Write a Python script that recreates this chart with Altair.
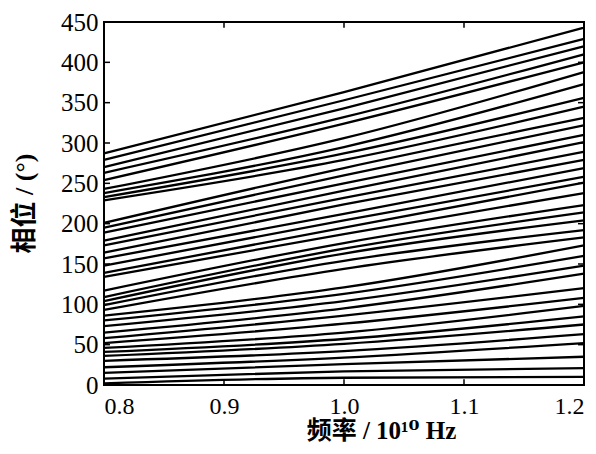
import altair as alt
import pandas as pd

# frequency sample points (in 10^10 Hz)
freq_points = [0.8, 1.0, 1.2]

# phase (degrees) of each curve, read at 0.8, 1.0 and 1.2
phase_at_08 = [287, 279, 270, 263, 254, 243, 238, 233, 229, 201, 195, 189, 179, 173,
               164, 157, 148, 139, 134, 117, 109, 104, 99, 93, 86, 80, 73, 65, 58,
               52, 46, 41, 36, 30, 22, 15, 8, 2]
phase_at_10 = [363, 353, 343, 332, 324, 306, 295, 287, 279, 269, 260, 250, 241, 232,
               224, 212, 204, 195, 187, 176, 169, 163, 154, 144, 121, 113, 104, 95, 86,
               76, 65, 57, 51, 42, 34, 26, 17, 9]
phase_at_12 = [443, 429, 420, 410, 400, 388, 373, 356, 345, 331, 322, 310, 301, 289,
               279, 269, 258, 251, 238, 223, 214, 204, 192, 183, 173, 160, 148, 138, 120,
               108, 98, 85, 75, 63, 52, 35, 21, 10]

x_ticks = [0.8, 0.9, 1.0, 1.1, 1.2]
x_inner_ticks = [0.9, 1.0, 1.1]
y_ticks = [0, 50, 100, 150, 200, 250, 300, 350, 400, 450]

rows = []
for i, vals in enumerate(zip(phase_at_08, phase_at_10, phase_at_12)):
    for f, v in zip(freq_points, vals):
        rows.append({"line": i, "freq": f, "phase": v})
df = pd.DataFrame(rows)

xscale = alt.Scale(domain=[0.8, 1.2], nice=False, zero=False)
yscale = alt.Scale(domain=[0, 450], nice=False, zero=False)

label_font = "Liberation Serif"
title_font = "Liberation Serif, DejaVu Serif, Noto Sans CJK SC"

x_axis = alt.Axis(values=x_ticks, format=".1f", title="频率 / 10¹⁰ Hz",
                  grid=False, domain=False, tickSize=0, labelPadding=9,
                  labelFont=label_font, labelFontSize=24, labelColor="black",
                  labelAlign=alt.expr("datum.value < 0.85 ? 'left' : (datum.value > 1.15 ? 'right' : 'center')"),
                  titleFont=title_font, titleFontSize=25, titleFontWeight="bold",
                  titleColor="black", titleX=277, titleY=45,
                  titleBaseline="middle", titleAlign="center")
y_axis = alt.Axis(values=y_ticks, title="相位 / (°)",
                  grid=False, domain=False, tickSize=0, labelPadding=6,
                  labelFont=label_font, labelFontSize=25, labelColor="black",
                  titleFont=title_font, titleFontSize=26, titleFontWeight="bold",
                  titleColor="black", titleX=-80, titleY=181, titleAngle=270,
                  titleBaseline="middle", titleAlign="center")

lines = alt.Chart(df).mark_line(color="black", strokeWidth=2.3, interpolate="monotone").encode(
    x=alt.X("freq:Q", scale=xscale, axis=x_axis),
    y=alt.Y("phase:Q", scale=yscale, axis=y_axis),
    detail="line:N",
)

ydf = pd.DataFrame({"v": y_ticks})
xdf = pd.DataFrame({"v": x_inner_ticks})

left_ticks = alt.Chart(ydf).mark_rule(color="black", strokeWidth=1.5).encode(
    y=alt.Y("v:Q", scale=yscale), x=alt.datum(0.8), x2=alt.datum(0.805))
right_ticks = alt.Chart(ydf).mark_rule(color="black", strokeWidth=1.5).encode(
    y=alt.Y("v:Q", scale=yscale), x=alt.datum(1.195), x2=alt.datum(1.2))
bottom_ticks = alt.Chart(xdf).mark_rule(color="black", strokeWidth=1.5).encode(
    x=alt.X("v:Q", scale=xscale), y=alt.datum(0), y2=alt.datum(7))
top_ticks = alt.Chart(xdf).mark_rule(color="black", strokeWidth=1.5).encode(
    x=alt.X("v:Q", scale=xscale), y=alt.datum(443), y2=alt.datum(450))

chart = alt.layer(lines, left_ticks, right_ticks, bottom_ticks, top_ticks).properties(
    width=480, height=363,
    autosize=alt.AutoSizeParams(type="none"),
    padding={"left": 96, "top": 14, "right": 4, "bottom": 61},
    background="white",
).configure_view(stroke="black", strokeWidth=2)

chart.save("out.html", embed_options={"renderer": "svg", "actions": False})
